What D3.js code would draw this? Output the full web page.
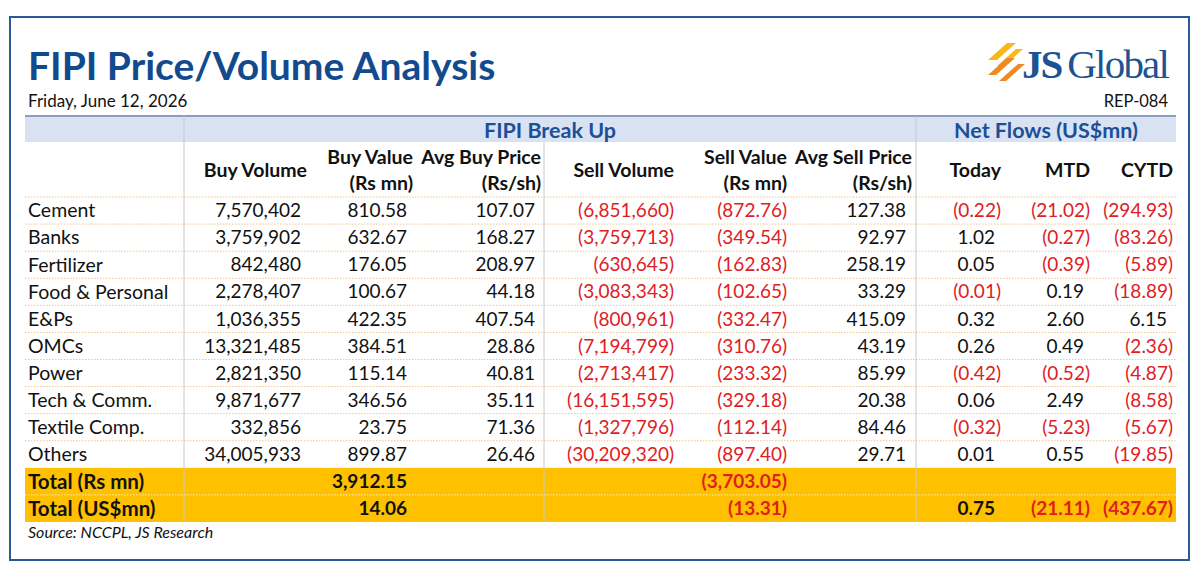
<!DOCTYPE html>
<html>
<head>
<meta charset="utf-8">
<script src="https://cdn.jsdelivr.net/npm/d3@7"></script>
<style>
  body { margin: 0; background: #fff; }
  svg { display: block; }
</style>
</head>
<body>
<div id="chart"></div>
<script>
//data
const sectors = ["Cement", "Banks", "Fertilizer", "Food & Personal", "E&Ps", "OMCs", "Power", "Tech & Comm.", "Textile Comp.", "Others"];
const buyVolume = [7570402, 3759902, 842480, 2278407, 1036355, 13321485, 2821350, 9871677, 332856, 34005933];
const buyValue = [810.58, 632.67, 176.05, 100.67, 422.35, 384.51, 115.14, 346.56, 23.75, 899.87];
const avgBuyPrice = [107.07, 168.27, 208.97, 44.18, 407.54, 28.86, 40.81, 35.11, 71.36, 26.46];
const sellVolume = [-6851660, -3759713, -630645, -3083343, -800961, -7194799, -2713417, -16151595, -1327796, -30209320];
const sellValue = [-872.76, -349.54, -162.83, -102.65, -332.47, -310.76, -233.32, -329.18, -112.14, -897.4];
const avgSellPrice = [127.38, 92.97, 258.19, 33.29, 415.09, 43.19, 85.99, 20.38, 84.46, 29.71];
const netToday = [-0.22, 1.02, 0.05, -0.01, 0.32, 0.26, -0.42, 0.06, -0.32, 0.01];
const netMTD = [-21.02, -0.27, -0.39, 0.19, 2.6, 0.49, -0.52, 2.49, -5.23, 0.55];
const netCYTD = [-294.93, -83.26, -5.89, -18.89, 6.15, -2.36, -4.87, -8.58, -5.67, -19.85];

//totals, in column order
const totalLabels = ["Total (Rs mn)", "Total (US$mn)"];
const totalRsMn = [null, 3912.15, null, null, -3703.05, null, null, null, null];
const totalUsdMn = [null, 14.06, null, null, -13.31, null, 0.75, -21.11, -437.67];

const groupLabels = ["FIPI Break Up", "Net Flows (US$mn)"];
const columnHeads = [
  ["Buy Volume"], ["Buy Value", "(Rs mn)"], ["Avg Buy Price", "(Rs/sh)"],
  ["Sell Volume"], ["Sell Value", "(Rs mn)"], ["Avg Sell Price", "(Rs/sh)"],
  ["Today"], ["MTD"], ["CYTD"],
];
const columnSeries = [buyVolume, buyValue, avgBuyPrice, sellVolume, sellValue, avgSellPrice, netToday, netMTD, netCYTD];

//constants
const width = 1200;
const height = 580;
const font = "Lato, 'Open Sans', sans-serif";
const blue = "#124b8d";
const red = "#e0201e";
const ink = "#111111";
const parenW = 6;
const tableLeft = 25;
const tableRight = 1176;
const bodySize = 19;
const headSize = 19.5;

const volFormat = d3.format(",d");
const numFormat = d3.format(",.2f");

//column right edges (where the closing bracket ends)
const colX = d3
  .scaleOrdinal()
  .domain(d3.range(columnHeads.length))
  .range([307, 413, 541, 674, 787, 912, 1001, 1090, 1173]);

const rowKeys = sectors.concat(totalLabels);
const y = d3.scaleBand().domain(rowKeys).range([197, 522]);

const svg = d3
  .select("#chart")
  .append("svg")
  .attr("width", width)
  .attr("height", height);

//outer frame
svg
  .append("rect")
  .attr("x", 10)
  .attr("y", 17)
  .attr("width", 1179)
  .attr("height", 543)
  .attr("fill", "none")
  .attr("stroke", "#2a5a93")
  .attr("stroke-width", 2);

//title block
svg
  .append("text")
  .attr("x", 28)
  .attr("y", 80)
  .text("FIPI Price/Volume Analysis")
  .attr("font-family", font)
  .attr("font-weight", "bold")
  .attr("font-size", 39)
  .attr("fill", blue);

svg
  .append("text")
  .attr("x", 28)
  .attr("y", 107)
  .text("Friday, June 12, 2026")
  .attr("font-family", font)
  .attr("font-size", 17)
  .attr("fill", ink);

svg
  .append("text")
  .attr("x", 1168)
  .attr("y", 107)
  .attr("text-anchor", "end")
  .text("REP-084")
  .attr("font-family", font)
  .attr("font-size", 16.5)
  .attr("fill", ink);

//logo
const logo = svg.append("g").attr("transform", "translate(985,43)");
const stripes = [
  { pts: [[22, 0], [31, 0], [12, 17], [3, 17]], c: "#f6b81a" },
  { pts: [[31, 6], [38, 6], [19, 23], [12, 23]], c: "#f6b81a" },
  { pts: [[22, 15], [30, 15], [11, 32], [3, 32]], c: "#ef8a22" },
  { pts: [[33, 21], [40, 21], [21, 38], [14, 38]], c: "#ef8a22" },
];
logo
  .selectAll("path")
  .data(stripes)
  .join("path")
  .attr("d", (d) => "M" + d.pts.join("L") + "Z")
  .attr("fill", (d) => d.c);

svg
  .append("text")
  .attr("x", 1022)
  .attr("y", 78)
  .attr("font-family", "'Liberation Serif', 'DejaVu Serif', serif")
  .attr("font-size", 41)
  .attr("fill", "#1d5392")
  .call((t) =>
    t.append("tspan").attr("font-weight", "bold").attr("letter-spacing", -2).text("JS")
  )
  .call((t) =>
    t.append("tspan").attr("dx", 6).attr("letter-spacing", -1.8).text("Global")
  );

//header band
svg
  .append("rect")
  .attr("x", tableLeft)
  .attr("y", 116)
  .attr("width", tableRight - tableLeft)
  .attr("height", 26)
  .attr("fill", "#d9e2f3");

svg
  .append("line")
  .attr("x1", tableLeft)
  .attr("x2", tableRight)
  .attr("y1", 116)
  .attr("y2", 116)
  .attr("stroke", "#8a9fbf")
  .attr("stroke-width", 2);

svg
  .selectAll(".group-label")
  .data(groupLabels)
  .join("text")
  .attr("class", "group-label")
  .attr("x", (d, i) => (i === 0 ? (184 + 916) / 2 : (916 + tableRight) / 2))
  .attr("y", 130)
  .attr("dy", "0.35em")
  .attr("text-anchor", "middle")
  .text((d) => d)
  .attr("font-family", font)
  .attr("font-weight", "bold")
  .attr("font-size", 21.5)
  .attr("fill", "#1c4f97");

//total bands
svg
  .selectAll(".total-band")
  .data(totalLabels)
  .join("rect")
  .attr("class", "total-band")
  .attr("x", tableLeft)
  .attr("y", (d) => y(d))
  .attr("width", tableRight - tableLeft)
  .attr("height", y.bandwidth())
  .attr("fill", "#ffc000");

//row separators
svg
  .selectAll(".row-line")
  .data(sectors.concat(["end"]))
  .join("line")
  .attr("class", "row-line")
  .attr("x1", tableLeft)
  .attr("x2", tableRight)
  .attr("y1", (d, i) => y.range()[0] + i * y.step())
  .attr("y2", (d, i) => y.range()[0] + i * y.step())
  .attr("stroke", (d, i) => (i === 10 ? "none" : "#f3c48f"))
  .attr("stroke-dasharray", "1.5,1.5");

svg
  .append("line")
  .attr("x1", tableLeft)
  .attr("x2", tableRight)
  .attr("y1", y(totalLabels[1]))
  .attr("y2", y(totalLabels[1]))
  .attr("stroke", "#ffe9a8")
  .attr("stroke-dasharray", "1.5,1.5");

//vertical dividers
const dividers = [
  { x: 184, top: 116 },
  { x: 544, top: 142 },
  { x: 916, top: 116 },
];
svg
  .selectAll(".divider")
  .data(dividers)
  .join("line")
  .attr("class", "divider")
  .attr("x1", (d) => d.x)
  .attr("x2", (d) => d.x)
  .attr("y1", (d) => d.top)
  .attr("y2", y.range()[1])
  .attr("stroke", "#c8c8c8")
  .attr("stroke-width", 1);

//column headers
const heads = svg
  .selectAll(".col-head")
  .data(columnHeads)
  .join("text")
  .attr("class", "col-head")
  .attr("text-anchor", "end")
  .attr("font-family", font)
  .attr("font-weight", "bold")
  .attr("font-size", headSize)
  .attr("fill", ink);

heads
  .selectAll("tspan")
  .data((d, i) => d.map((line, j) => ({ line, j, n: d.length, col: i })))
  .join("tspan")
  .attr("x", (d) => colX(d.col))
  .attr("y", (d) => (d.n === 1 ? 170 : 157 + d.j * 26))
  .attr("dy", "0.35em")
  .text((d) => d.line);

//cell helpers
function cellText(v, col) {
  const f = col === 0 || col === 3 ? volFormat : numFormat;
  return v < 0 ? `(${f(-v)})` : f(v);
}

//sector rows
svg
  .selectAll(".sector")
  .data(sectors)
  .join("text")
  .attr("class", "sector")
  .attr("x", 28)
  .attr("y", (d) => y(d) + y.bandwidth() / 2)
  .attr("dy", "0.35em")
  .text((d) => d)
  .attr("font-family", font)
  .attr("font-size", bodySize + 0.5)
  .attr("fill", ink);

const cells = [];
columnSeries.forEach((series, col) => {
  series.forEach((v, r) => cells.push({ row: sectors[r], col, v }));
});

svg
  .selectAll(".cell")
  .data(cells)
  .join("text")
  .attr("class", "cell")
  .attr("x", (d) => colX(d.col) - (d.v < 0 ? 0 : parenW))
  .attr("y", (d) => y(d.row) + y.bandwidth() / 2)
  .attr("dy", "0.35em")
  .attr("text-anchor", "end")
  .text((d) => cellText(d.v, d.col))
  .attr("font-family", font)
  .attr("font-size", bodySize)
  .attr("fill", (d) => (d.v < 0 ? red : ink));

//total rows
svg
  .selectAll(".total-label")
  .data(totalLabels)
  .join("text")
  .attr("class", "total-label")
  .attr("x", 28)
  .attr("y", (d) => y(d) + y.bandwidth() / 2)
  .attr("dy", "0.35em")
  .text((d) => d)
  .attr("font-family", font)
  .attr("font-weight", "bold")
  .attr("font-size", 20.5)
  .attr("fill", ink);

const totalCells = [];
[totalRsMn, totalUsdMn].forEach((row, r) => {
  row.forEach((v, col) => {
    if (v !== null) totalCells.push({ row: totalLabels[r], col, v });
  });
});

svg
  .selectAll(".total-cell")
  .data(totalCells)
  .join("text")
  .attr("class", "total-cell")
  .attr("x", (d) => colX(d.col) - (d.v < 0 ? 0 : parenW))
  .attr("y", (d) => y(d.row) + y.bandwidth() / 2)
  .attr("dy", "0.35em")
  .attr("text-anchor", "end")
  .text((d) => cellText(d.v, d.col))
  .attr("font-family", font)
  .attr("font-weight", "bold")
  .attr("font-size", bodySize)
  .attr("fill", (d) => (d.v < 0 ? red : ink));

//source
svg
  .append("text")
  .attr("x", 28)
  .attr("y", 538)
  .text("Source: NCCPL, JS Research")
  .attr("font-family", font)
  .attr("font-style", "italic")
  .attr("font-size", 16)
  .attr("fill", ink);
</script>
</body>
</html>
